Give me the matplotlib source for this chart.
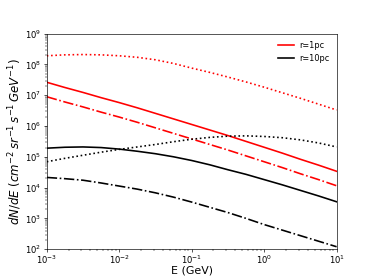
import numpy as np
import matplotlib
matplotlib.use("Agg")
import matplotlib.pyplot as plt

# log10 of energy (GeV), quarter-decade readings
log_energy = [-3.0, -2.75, -2.5, -2.25, -2.0, -1.75, -1.5, -1.25, -1.0,
              -0.75, -0.5, -0.25, 0.0, 0.25, 0.5, 0.75, 1.0]

# log10 of dN/dE
r1_solid_log = [7.42, 7.25, 7.09, 6.92, 6.76, 6.59, 6.41, 6.23, 6.05,
                5.87, 5.69, 5.50, 5.31, 5.12, 4.92, 4.73, 4.53]
r1_dashdot_log = [6.95, 6.78, 6.62, 6.45, 6.29, 6.12, 5.94, 5.76, 5.58,
                  5.40, 5.22, 5.03, 4.84, 4.65, 4.45, 4.26, 4.06]
r1_dotted_log = [8.28, 8.31, 8.32, 8.31, 8.28, 8.23, 8.15, 8.03, 7.88,
                 7.74, 7.59, 7.43, 7.26, 7.08, 6.90, 6.71, 6.52]

r10_solid_log = [5.28, 5.31, 5.32, 5.30, 5.25, 5.18, 5.10, 5.00, 4.88,
                 4.74, 4.58, 4.43, 4.26, 4.09, 3.91, 3.73, 3.54]
r10_dotted_log = [4.84, 4.95, 5.05, 5.15, 5.24, 5.32, 5.40, 5.49, 5.57,
                  5.63, 5.67, 5.68, 5.66, 5.62, 5.55, 5.45, 5.32]
r10_dashdot_log = [4.33, 4.29, 4.24, 4.15, 4.05, 3.95, 3.83, 3.69, 3.53,
                   3.36, 3.19, 3.00, 2.80, 2.62, 2.44, 2.26, 2.08]

labels = ["r=1pc", "r=10pc"]

E = np.power(10.0, log_energy)

dpi = 374 / 6.4
fig = plt.figure(figsize=(6.4, 280 / dpi), dpi=dpi)
ax = fig.add_subplot(111)

lw = 2.0
ax.plot(E, np.power(10.0, r1_solid_log), color="red", lw=lw, label=labels[0])
ax.plot(E, np.power(10.0, r1_dashdot_log), color="red", lw=lw, ls="-.")
ax.plot(E, np.power(10.0, r1_dotted_log), color="red", lw=lw, ls=":")
ax.plot(E, np.power(10.0, r10_solid_log), color="black", lw=lw, label=labels[1])
ax.plot(E, np.power(10.0, r10_dotted_log), color="black", lw=lw, ls=":")
ax.plot(E, np.power(10.0, r10_dashdot_log), color="black", lw=lw, ls="-.")

ax.set_xscale("log")
ax.set_yscale("log")
ax.set_xlim(1e-3, 1e1)
ax.set_ylim(1e2, 1e9)
ax.set_xlabel("E (GeV)", fontsize=13.5, labelpad=-1)
ax.set_ylabel(r"$dN/dE\ (cm^{-2}\,sr^{-1}\,s^{-1}\,GeV^{-1})$", fontsize=14.5, labelpad=1)
ax.tick_params(labelsize=10.5)
ax.tick_params(axis="x", pad=2.5)
ax.legend(loc="upper right", frameon=False, fontsize=10, handletextpad=0.6)

fig.savefig("out.png", dpi=dpi)
